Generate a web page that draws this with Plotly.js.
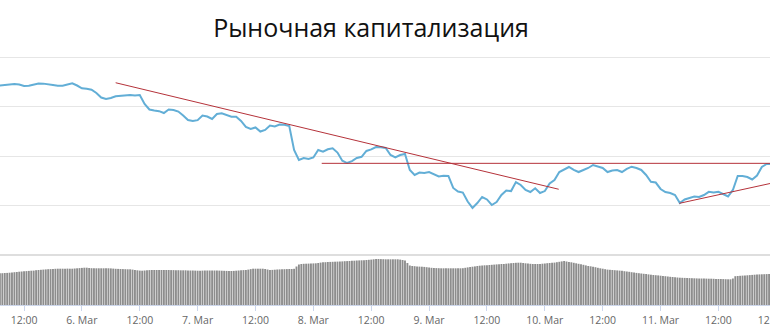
<!DOCTYPE html>
<html>
<head>
<meta charset="utf-8">
<script src="https://cdn.plot.ly/plotly-3.0.1.min.js"></script>
<style>
  html, body { margin: 0; padding: 0; width: 770px; height: 330px; overflow: hidden; background: #fff; }
  #chart { width: 800px; height: 330px; }
</style>
</head>
<body>
<div id="chart"></div>
<script>
// Market capitalisation, hourly, from 5 Mar 07:00 onwards
const capStart = '2019-03-05T07:00:00Z';
const capValues = [
  132.12,132.15,132.17,132.27,132.22,132.07,132.09,132.17,132.32,132.31,132.27,132.17,132.10,132.10,132.22,132.34,132.12,
  131.84,131.79,131.69,131.36,130.91,130.76,130.86,131.04,131.08,131.13,131.16,131.11,131.16,
  130.25,129.70,129.60,129.53,129.34,129.70,129.65,129.49,129.09,128.64,128.54,128.62,
  129.09,128.99,128.74,129.24,129.31,129.14,128.97,128.97,128.54,127.93,127.73,127.88,
  127.47,127.63,128.08,127.98,128.18,128.15,128.03,125.61,124.60,124.80,124.70,124.85,
  125.61,125.43,125.68,125.78,125.35,124.52,124.29,124.49,124.80,124.92,125.51,125.67,
  125.91,125.89,125.81,125.10,124.85,125.10,125.20,123.59,123.08,123.33,123.28,123.38,
  123.18,122.93,123.00,122.98,121.77,121.41,121.31,120.40,119.75,120.25,120.86,120.61,
  120.05,120.35,121.06,121.52,121.46,122.37,122.07,121.57,121.36,121.74,121.26,121.46,
  122.22,122.58,123.38,123.64,123.89,123.59,123.38,123.59,123.79,124.09,123.94,123.79,
  123.38,123.54,123.59,123.38,123.69,123.92,123.79,123.59,123.08,122.40,122.32,121.67,
  121.36,121.26,121.06,120.25,120.61,120.76,120.91,120.86,121.06,121.38,121.31,121.39,
  121.16,120.91,121.57,122.98,122.98,122.88,122.63,123.03,123.89,124.19,124.19
];

// Trading volume, every 30 minutes from the same start
const volStart = '2019-03-05T07:00:00Z';
const volValues = [
  31.7,31.8,32,32.1,32.3, 32.5,32.8,33,33.3,33.5, 33.7,33.9,34.1,34.3,34.4, 34.8,35,35.2,35.4,35.6,
  35.8,35.9,36,36.2,36.3, 36.3,36.3,36.3,36.4,36.3, 36.3,36.5,36.7,36.9,37.1, 37.3,37.3,37,36.8,36.7,
  36.7,36.7,36.7,36.7,36.7, 36.7,36.6,36.4,36.2,36.1, 36,35.9,35.8,35.7,35.7, 35.4,35,34.7,34.4,34.3,
  34.5,34.7,34.9,35,35, 35,35,35,35,35, 35,34.9,34.9,34.8,34.8, 34.7,34.7,34.7,34.6,34.5,
  34.5,34.4,34.3,34.3,34.4, 34.5,34.5,34.5,34.5,34.5, 34.5,34.4,34.3,34.2,34.1, 34,34,34.1,34.3,34.5,
  34.7,34.9,35,35.4,35.9, 36.3,36.3,36.3,36.3,36.3, 36,35.5,35,35.1,35.3, 35.5,35.6,35.7,35.8,35.9,
  36,36,36.2,38.5,40.5, 41,41.2,41.3,41.4,41.5, 41.6,41.7,42,42.4,42.7, 42.8,43,43.1,43.2,43.3,
  43.4,43.5,43.6,43.8,43.9, 44,44.2,44.3,44.5,44.6, 44.7,44.8,45,45.2,45.4, 45.7,46,46,45.9,45.8,
  45.7,45.7,45.7,45.7,45.7, 45.7,45.4,45,44.5,42, 39.5,39,38.8,38.6,38.4, 38.3,38.1,37.8,37.5,37.2,
  37,36.9,36.8,36.7,36.7, 36.7,36.7,36.7,36.7,36.7, 36.7,36.7,36.8,37.2,37.6, 38,38.3,38.6,39,39.3,
  39.5,39.7,39.8,40,40.2, 40.4,40.6,40.8,41,41, 41.3,41.6,41.8,42,42.2, 42.3,42.3,42,41.7,41.4,
  41.2,41,41,41,41, 41.3,41.5,41.8,42,42.3, 42.4,42.8,43.2,43.6,44, 43.5,43,42.7,42.2,41.7,
  41.2,40.7,40.2,39.6,39, 38.7,38.3,37.8,37.2,36.7, 36.3,35.8,35.4,35.2,35, 34.8,34.6,34.4,34.2,33.8,
  33.5,33.2,32.8,32.4,32.1, 31.8,31.5,31.2,31,30.6, 30.3,30,29.8,29.6,29.3, 29,28.8,28.5,28.2,28,
  27.8,27.5,27.3,27.2,27.1, 27,26.9,26.8,26.7,26.6, 26.5,26.5,26.4,26.4,26.3, 26.3,26.2,26.1,26,26,
  25.9,25.8,25.7,25.7,26.5, 28.8,29,29.2,29.4,29.6, 29.7,29.9,30.1,30.3,30.5, 30.6,30.7,30.8,30.9,31,
  31
];

// Hand-drawn trend lines (resistance, support level, rising support)
const trendDownX = ['2019-03-06 07:00', '2019-03-10 02:53'];
const trendDownY = [132.40, 121.64];
const levelX = ['2019-03-08 01:44', '2019-03-12 05:00'];
const levelY = [124.26, 124.26];
const trendUpX = ['2019-03-11 03:54', '2019-03-12 05:00'];
const trendUpY = [120.22, 122.89];

// Axis ticks
const tickDates = ['2019-03-05 12:00','2019-03-06 00:00','2019-03-06 12:00','2019-03-07 00:00','2019-03-07 12:00',
  '2019-03-08 00:00','2019-03-08 12:00','2019-03-09 00:00','2019-03-09 12:00','2019-03-10 00:00',
  '2019-03-10 12:00','2019-03-11 00:00','2019-03-11 12:00','2019-03-12 00:00'];
const tickLabels = ['12:00','6. Mar','12:00','7. Mar','12:00','8. Mar','12:00','9. Mar','12:00','10. Mar',
  '12:00','11. Mar','12:00','12. Mar'];
const gridValues = [120, 125, 130, 135];

const titleText = 'Рыночная капитализация';

function stamp(ms) {
  const d = new Date(ms);
  const p = n => String(n).padStart(2, '0');
  return d.getUTCFullYear() + '-' + p(d.getUTCMonth() + 1) + '-' + p(d.getUTCDate()) + ' ' +
         p(d.getUTCHours()) + ':' + p(d.getUTCMinutes());
}
function timeAxis(start, stepMin, n) {
  const t0 = Date.parse(start);
  return Array.from({ length: n }, (_, i) => stamp(t0 + i * stepMin * 60000));
}

const capX = timeAxis(capStart, 60, capValues.length);
const volX = timeAxis(volStart, 30, volValues.length);

const red = '#b5323a';
// plot area is 255 px tall; the bottom 50 px hold the volume panel
const split = 50 / 255;

const traces = [
  { type: 'bar', x: volX, y: volValues, xaxis: 'x', yaxis: 'y2',
    marker: { color: '#8d8d8d', line: { width: 0 } }, hoverinfo: 'skip' },
  { type: 'scatter', mode: 'lines', x: capX, y: capValues, xaxis: 'x', yaxis: 'y',
    line: { color: '#62aed6', width: 2 } },
  { type: 'scatter', mode: 'lines', x: trendDownX, y: trendDownY, xaxis: 'x', yaxis: 'y',
    line: { color: red, width: 1 } },
  { type: 'scatter', mode: 'lines', x: levelX, y: levelY, xaxis: 'x', yaxis: 'y',
    line: { color: red, width: 1 } },
  { type: 'scatter', mode: 'lines', x: trendUpX, y: trendUpY, xaxis: 'x', yaxis: 'y',
    line: { color: red, width: 1 } }
];

const layout = {
  width: 800, height: 330,
  margin: { l: 0, r: 0, t: 50, b: 25, pad: 0 },
  paper_bgcolor: '#fff', plot_bgcolor: '#fff',
  showlegend: false,
  bargap: 0.22,
  title: {
    text: titleText,
    font: { family: 'Open Sans, sans-serif', size: 25, color: '#111' },
    x: 371 / 800, xref: 'container', xanchor: 'center',
    y: 1 - 28 / 330, yref: 'container', yanchor: 'middle'
  },
  xaxis: {
    type: 'date', anchor: 'y2',
    range: ['2019-03-05 07:00:54', '2019-03-12 04:55:00'],
    tickmode: 'array', tickvals: tickDates, ticktext: tickLabels,
    ticks: 'outside', ticklen: 5, tickcolor: '#ccd6eb', tickwidth: 1,
    showline: true, linecolor: '#ccd6eb', linewidth: 1,
    showgrid: false, zeroline: false,
    tickfont: { family: 'Open Sans, sans-serif', size: 10.5, color: '#666' }
  },
  yaxis: {
    domain: [split, 1], range: [115, 135.707],
    tickmode: 'array', tickvals: gridValues,
    showticklabels: false, ticks: '',
    showgrid: true, gridcolor: '#e6e6e6', gridwidth: 1,
    zeroline: false, showline: false
  },
  yaxis2: {
    domain: [0, split], range: [0, 50],
    showticklabels: false, ticks: '', showgrid: false, zeroline: false, showline: false
  },
  shapes: [
    { type: 'line', xref: 'paper', yref: 'paper', x0: 0, x1: 1, y0: split, y1: split,
      line: { color: '#dedede', width: 2 } }
  ]
};

Plotly.newPlot('chart', traces, layout, { displayModeBar: false, staticPlot: true });
</script>
</body>
</html>
